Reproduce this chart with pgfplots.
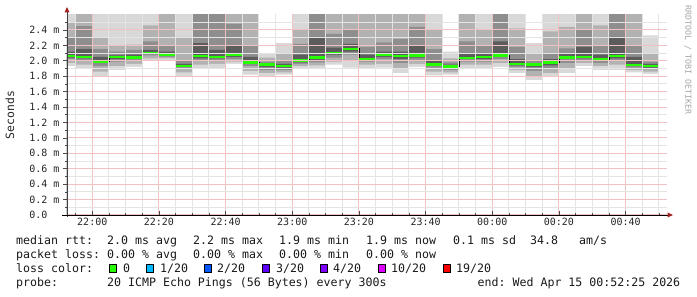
\documentclass[border=0pt]{standalone}
\usepackage{pgfplots}
\pgfplotsset{compat=1.18}
\usepackage{pgfplotstable}
\usepackage{fontspec}
\setmainfont{DejaVu Sans Mono}
\usetikzlibrary{arrows.meta}
\frenchspacing

\definecolor{smA}{HTML}{D8D8D8}
\definecolor{smB}{HTML}{B2B2B2}
\definecolor{smC}{HTML}{8E8E8E}
\definecolor{smD}{HTML}{5C5C5C}
\definecolor{mgrid}{HTML}{F0C2C2}
\definecolor{lgrid}{HTML}{E4E4E4}
\definecolor{arr}{HTML}{A02020}
\definecolor{loss0}{HTML}{26FF00}
\definecolor{loss1}{HTML}{00B8FF}
\definecolor{loss2}{HTML}{0059FF}
\definecolor{loss3}{HTML}{5E00FF}
\definecolor{loss4}{HTML}{7E00FF}
\definecolor{loss10}{HTML}{DD00FF}
\definecolor{loss19}{HTML}{FF0000}

\pgfplotstableread{
x       alo  blo  clo  dlo  med   dhi  chi  bhi  ahi
-7.5833 1.93 1.97 2.02 2.04 2.06  2.12 2.30 2.50 2.62
-5      1.90 1.95 2.00 2.03 2.05  2.15 2.45 2.62 2.62
0       1.79 1.86 1.93 1.97 1.99  2.05 2.15 2.30 2.62
5       1.88 1.93 1.99 2.02 2.05  2.07 2.12 2.20 2.62
10      1.92 1.96 2.00 2.02 2.045 2.08 2.14 2.21 2.62
15      2.00 2.03 2.07 2.09 2.10  2.14 2.25 2.46 2.62
20      2.01 2.03 2.05 2.07 2.08  2.12 2.20 2.62 2.62
25      1.80 1.85 1.90 1.92 1.93  1.96 2.00 2.31 2.62
30      1.90 1.95 2.00 2.03 2.06  2.23 2.62 2.62 2.62
35      1.90 1.96 2.00 2.03 2.05  2.14 2.62 2.62 2.62
40      1.96 1.99 2.02 2.05 2.08  2.20 2.48 2.62 2.62
45      1.82 1.87 1.93 1.96 1.975 2.05 2.20 2.62 2.62
50      1.80 1.84 1.88 1.92 1.955 1.97 1.99 2.04 2.10
55      1.82 1.85 1.88 1.91 1.93  1.96 2.00 2.10 2.23
60      1.90 1.93 1.96 1.98 2.00  2.08 2.22 2.40 2.62
65      1.90 1.94 1.98 2.01 2.04  2.31 2.62 2.62 2.62
70      1.95 1.99 2.04 2.08 2.10  2.17 2.35 2.62 2.62
75      1.91 2.00 2.08 2.12 2.155 2.22 2.40 2.62 2.62
80      1.90 1.95 1.99 2.01 2.02  2.08 2.18 2.62 2.62
85      1.91 1.96 2.02 2.05 2.08  2.12 2.24 2.62 2.62
90      1.84 1.90 1.97 2.02 2.06  2.12 2.28 2.62 2.62
95      1.92 1.96 2.01 2.04 2.07  2.20 2.44 2.62 2.62
100     1.81 1.86 1.91 1.93 1.95  2.00 2.15 2.40 2.62
105     1.82 1.85 1.88 1.91 1.925 1.95 1.98 2.03 2.12
110     1.90 1.95 1.99 2.02 2.035 2.10 2.25 2.62 2.62
115     1.90 1.95 1.99 2.02 2.05  2.10 2.20 2.40 2.62
120     1.92 1.97 2.02 2.05 2.07  2.25 2.62 2.62 2.62
125     1.84 1.88 1.92 1.94 1.96  2.02 2.18 2.42 2.62
130     1.75 1.80 1.87 1.92 1.95  1.97 2.00 2.10 2.23
135     1.79 1.84 1.89 1.94 1.975 2.02 2.10 2.38 2.62
140     1.84 1.90 1.97 2.02 2.045 2.10 2.16 2.44 2.62
145     1.93 1.97 2.01 2.03 2.05  2.18 2.40 2.62 2.62
150     1.88 1.93 1.97 2.00 2.02  2.08 2.20 2.46 2.62
155     1.88 1.95 2.00 2.03 2.06  2.31 2.62 2.62 2.62
160     1.85 1.88 1.91 1.93 1.945 2.05 2.20 2.62 2.62
165     1.83 1.86 1.89 1.91 1.93  1.96 1.99 2.10 2.33
170     1.83 1.86 1.89 1.91 1.93  1.96 1.99 2.10 2.33
}\smoke

\newcommand{\legfont}{\fontsize{11.6}{13}\selectfont}

\begin{document}
\begin{tikzpicture}[x=1pt,y=1pt]
\path[use as bounding box] (0,0) rectangle (697,297);
\begin{axis}[
  at={(67pt,82pt)}, anchor=south west,
  scale only axis, width=600pt, height=200.5pt,
  xmin=-7.5833, xmax=172.4167, ymin=0, ymax=2.6,
  axis on top, no markers,
  axis line style={draw=none},
  xtick={0,20,40,60,80,100,120,140,160},
  xticklabels={22:00,22:20,22:40,23:00,23:20,23:40,00:00,00:20,00:40},
  minor xtick={-5,5,10,15,25,30,35,45,50,55,65,70,75,85,90,95,105,110,115,125,130,135,145,150,155,165,170},
  ytick={0,0.2,0.4,0.6,0.8,1.0,1.2,1.4,1.6,1.8,2.0,2.2,2.4},
  yticklabels={0.0\phantom{~m},0.2~m,0.4~m,0.6~m,0.8~m,1.0~m,1.2~m,1.4~m,1.6~m,1.8~m,2.0~m,2.2~m,2.4~m},
  minor ytick={0.1,0.3,0.5,0.7,0.9,1.1,1.3,1.5,1.7,1.9,2.1,2.3,2.5},
  grid=both,
  major grid style={mgrid, line width=1pt},
  minor grid style={lgrid, line width=1pt},
  xtick pos=bottom, ytick pos=left,
  xtick align=inside, ytick align=outside,
  major tick length=4pt, minor tick length=2pt,
  tick style={black!70, line width=0.6pt},
  tick label style={font=\fontsize{10}{12}\selectfont, text=black!85},
]
\addplot[const plot mark left, fill=smA, draw=none] table[x=x,y=ahi]{\smoke} \closedcycle;
\addplot[const plot mark left, fill=smB, draw=none] table[x=x,y=bhi]{\smoke} \closedcycle;
\addplot[const plot mark left, fill=smC, draw=none] table[x=x,y=chi]{\smoke} \closedcycle;
\addplot[const plot mark left, fill=smD, draw=none] table[x=x,y=dhi]{\smoke} \closedcycle;
\addplot[const plot mark left, fill=smC, draw=none] table[x=x,y=dlo]{\smoke} \closedcycle;
\addplot[const plot mark left, fill=smB, draw=none] table[x=x,y=clo]{\smoke} \closedcycle;
\addplot[const plot mark left, fill=smA, draw=none] table[x=x,y=blo]{\smoke} \closedcycle;
\addplot[const plot mark left, fill=white, draw=none] table[x=x,y=alo]{\smoke} \closedcycle;
\addplot[const plot mark left, black, line width=0.8pt] table[x=x,y=med]{\smoke};
\addplot[jump mark left, loss0, line width=2.6pt] table[x=x,y=med]{\smoke};
\end{axis}
% axis lines
\draw[black!75, line width=0.8pt] (67,80) -- (67,286);
\fill[arr] (67,290) -- (64.5,284.5) -- (69.5,284.5) -- cycle;
\draw[black, line width=0.8pt] (62,82) -- (668,82);
\fill[arr] (673,82) -- (667.5,84.5) -- (667.5,79.5) -- cycle;
% y label
\node[rotate=90, font=\fontsize{11.4}{13}\selectfont, text=black!85] at (10,182) {Seconds};
% watermark
\node[rotate=-90, font=\fontsize{8.3}{10}\selectfont, text=black!35] at (688,237) {RRDTOOL / TOBI OETIKER};
% legend
\begin{scope}[every node/.style={anchor=base west, inner sep=0pt, font=\legfont, text=black!90}]
\node at (16,52) {median rtt:};
\node at (107,52) {2.0 ms avg};
\node at (193,52) {2.2 ms max};
\node at (279,52) {1.9 ms min};
\node at (366,52) {1.9 ms now};
\node at (453,52) {0.1 ms sd};
\node at (530,52) {34.8};
\node at (579,52) {am/s};
\node at (16,38) {packet loss:};
\node at (107,38) {0.00 \% avg};
\node at (193,38) {0.00 \% max};
\node at (279,38) {0.00 \% min};
\node at (366,38) {0.00 \% now};
\node at (16,24) {loss color:};
\node at (123,24) {0};
\node at (160,24) {1/20};
\node at (217,24) {2/20};
\node at (276,24) {3/20};
\node at (333,24) {4/20};
\node at (391,24) {10/20};
\node at (456,24) {19/20};
\node at (16,10.5) {probe:};
\node at (107,10.5) {20 ICMP Echo Pings (56 Bytes) every 300s};
\node at (477.5,10.5) {end: Wed Apr 15 00:52:25 2026};
\end{scope}
\foreach \xx/\cc in {109/loss0,146/loss1,204/loss2,262/loss3,320/loss4,378/loss10,443/loss19}{
  \filldraw[fill=\cc, draw=black, line width=0.7pt] (\xx,24.5) rectangle ++(7,8);
}
\end{tikzpicture}
\end{document}
